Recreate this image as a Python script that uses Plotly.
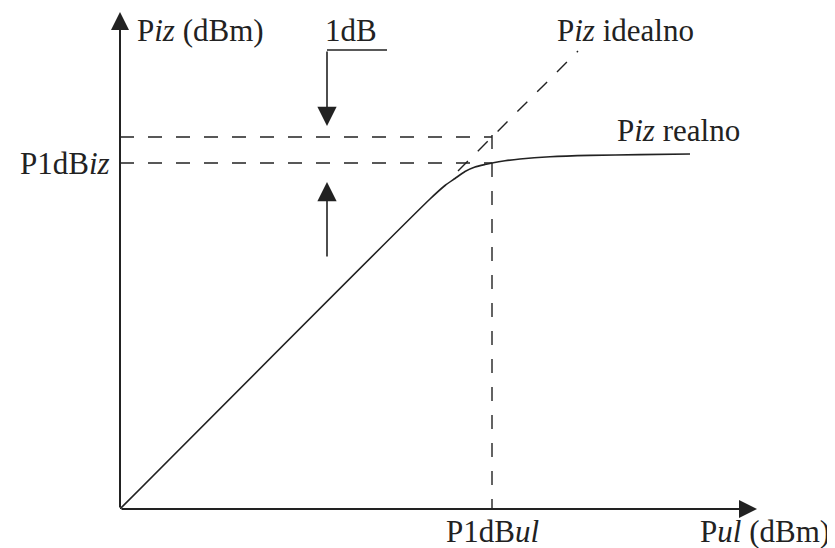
import plotly.graph_objects as go

# ---- data (schematic units, dBm) ----
pul_real = [0, 31, 32.5, 33.5, 34.5, 35.5, 36.5, 37.2, 38.5, 40, 43, 47, 52, 57]
piz_real = [0, 31, 32.35, 33.05, 33.75, 34.2, 34.45, 34.6, 34.82, 35.0, 35.22, 35.36, 35.44, 35.5]
pul_ideal = [33.8, 45.8]
piz_ideal = [33.8, 45.8]
p1db_ul = 37.2          # input power at 1 dB compression
p1db_iz = 34.6          # output power at 1 dB compression
p1db_iz_ideal = 37.2    # ideal output at P1dBul

FONT = "Liberation Serif, Times New Roman, serif"
INK = "#222222"

fig = go.Figure()

# real characteristic
fig.add_trace(go.Scatter(x=pul_real, y=piz_real, mode="lines",
                         line=dict(color=INK, width=1.6, shape="spline", smoothing=0.6),
                         hoverinfo="skip", showlegend=False))
# ideal characteristic (dashed continuation)
fig.add_trace(go.Scatter(x=pul_ideal, y=piz_ideal, mode="lines",
                         line=dict(color=INK, width=1.4, dash="14px,14px"),
                         hoverinfo="skip", showlegend=False))
# dashed guide lines
fig.add_trace(go.Scatter(x=[0, p1db_ul], y=[p1db_iz_ideal, p1db_iz_ideal], mode="lines",
                         line=dict(color=INK, width=1.4, dash="14px,14px"),
                         hoverinfo="skip", showlegend=False))
fig.add_trace(go.Scatter(x=[0, p1db_ul], y=[p1db_iz, p1db_iz], mode="lines",
                         line=dict(color=INK, width=1.4, dash="14px,14px"),
                         hoverinfo="skip", showlegend=False))
fig.add_trace(go.Scatter(x=[p1db_ul, p1db_ul], y=[p1db_iz_ideal + 0.2, 0], mode="lines",
                         line=dict(color=INK, width=1.4, dash="14px,14px"),
                         hoverinfo="skip", showlegend=False))

annotations = []

def arrow(x0, y0, x1, y1, width, size):
    annotations.append(dict(x=x1, y=y1, ax=x0, ay=y0, xref="x", yref="y",
                            axref="x", ayref="y", text="", showarrow=True,
                            arrowhead=2, arrowwidth=width, arrowsize=size,
                            arrowcolor=INK))

# axes with arrows
arrow(0, 0, 63.7, 0, 2, 1.8)
arrow(0, 0, 0, 49.7, 2, 1.8)
# 1 dB arrows
arrow(20.7, 45.9, 20.7, 38.3, 1.6, 2.4)
arrow(20.7, 25.1, 20.7, 32.7, 1.6, 2.4)

def label(text, x, y, xanchor, yanchor="middle", xshift=0, yshift=0):
    annotations.append(dict(x=x, y=y, xref="x", yref="y", text=text, showarrow=False,
                            xanchor=xanchor, yanchor=yanchor, xshift=xshift, yshift=yshift,
                            font=dict(family=FONT, size=31, color=INK)))

label("P<i>iz</i> (dBm)", 1.5, 47.9, "left")
label("1dB", 23.1, 47.9, "center")
label("P<i>iz</i> idealno", 43.5, 47.9, "left")
label("P<i>iz</i> realno", 49.5, 37.9, "left")
label("P1dB<i>iz</i>", 0, p1db_iz, "right", xshift=-8)
label("P1dB<i>ul</i>", p1db_ul, 0, "center", yshift=-22)
label("P<i>ul</i> (dBm)", 57.8, 0, "left", yshift=-22)

# the page body has an 8px default margin, so the figure is sized to fit inside 835x548
fig.update_layout(
    width=827, height=540,
    margin=dict(l=112, r=75, t=2, b=39),
    paper_bgcolor="white", plot_bgcolor="white",
    xaxis=dict(range=[0, 64], visible=False),
    yaxis=dict(range=[0, 49.9], visible=False),
    annotations=annotations,
    shapes=[dict(type="line", xref="x", yref="y", x0=20.7, y0=45.9, x1=26.7, y1=45.9,
                 line=dict(color=INK, width=1.6))],
    showlegend=False,
)

fig.write_html("out.html")
